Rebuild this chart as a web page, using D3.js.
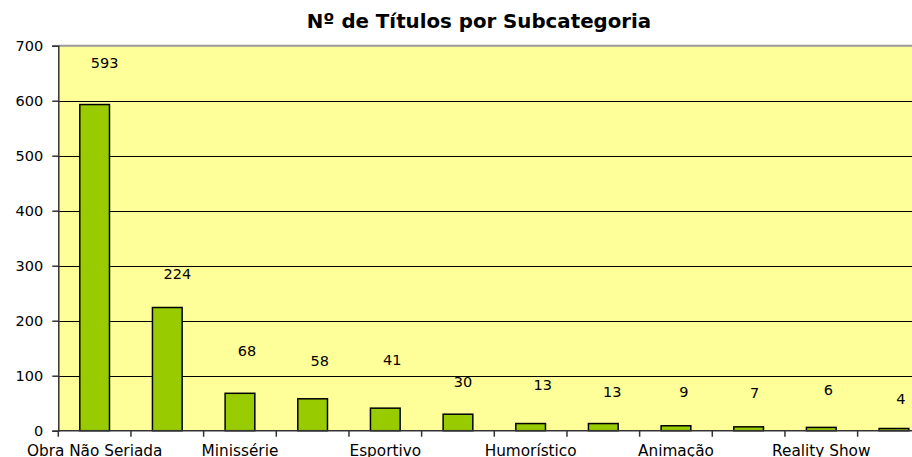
<!DOCTYPE html>
<html>
<head>
<meta charset="utf-8">
<script src="https://cdn.jsdelivr.net/npm/d3@7"></script>
<style>
  body { margin: 0; background: #fff; }
  svg { display: block; font-family: "DejaVu Sans", Verdana, sans-serif; }
</style>
</head>
<body>
<div id="chart"></div>
<script>
// data
var categories = ["Obra Não Seriada", "Série", "Minissérie", "Telenovela", "Esportivo", "Documentário",
                  "Humorístico", "Variedades", "Animação", "Jornalístico", "Reality Show", "Infantil"];
var titles = [593, 224, 68, 58, 41, 30, 13, 13, 9, 7, 6, 4];
var yTicks = [0, 100, 200, 300, 400, 500, 600, 700];

var svgWidth = 912;
var svgHeight = 457;

// plot area runs a little past the right edge, like the original
var plot = { left: 58.3, top: 45.7, right: 930.3, bottom: 430.7 };

var svg = d3.select("#chart").append("svg")
  .attr("width", svgWidth)
  .attr("height", svgHeight);

var x = d3.scaleBand()
  .domain(categories)
  .range([plot.left, plot.right])
  .padding(0);

var y = d3.scaleLinear()
  .domain([0, 700])
  .range([plot.bottom, plot.top]);

var barW = 29.7;

// background
svg.append("rect")
  .attr("x", plot.left)
  .attr("y", plot.top)
  .attr("width", plot.right - plot.left)
  .attr("height", plot.bottom - plot.top)
  .attr("fill", "#FFFF99");

// gridlines
svg.append("g")
  .selectAll("line")
  .data(yTicks.filter(d => d > 0 && d < 700))
  .enter()
  .append("line")
  .attr("x1", plot.left)
  .attr("x2", plot.right)
  .attr("y1", d => Math.round(y(d)) + 0.5)
  .attr("y2", d => Math.round(y(d)) + 0.5)
  .attr("stroke", "#000")
  .attr("stroke-width", 1);

// top border
svg.append("line")
  .attr("x1", plot.left)
  .attr("x2", plot.right)
  .attr("y1", plot.top)
  .attr("y2", plot.top)
  .attr("stroke", "#9a9a9a")
  .attr("stroke-width", 2);

// bars
svg.append("g")
  .selectAll("rect")
  .data(titles)
  .enter()
  .append("rect")
  .attr("x", (d, i) => x(categories[i]) + (x.bandwidth() - barW) / 2)
  .attr("y", d => y(d))
  .attr("width", barW)
  .attr("height", d => y(0) - y(d))
  .attr("fill", "#99CC00")
  .attr("stroke", "#000")
  .attr("stroke-width", 1.5);

// value labels (Excel left them a bit scattered)
var labelLift = [37, 29, 37, 33, 43, 27, 34, 27, 29, 29, 32, 25];
var labelShift = [10, 10, 7, 7, 7, 5, 12, 9, 8, 6, 7, 7];
svg.append("g")
  .selectAll("text")
  .data(titles)
  .enter()
  .append("text")
  .attr("x", (d, i) => x(categories[i]) + x.bandwidth() / 2 + labelShift[i])
  .attr("y", (d, i) => y(d) - labelLift[i])
  .attr("text-anchor", "middle")
  .attr("font-size", 14.5)
  .attr("fill", "#000")
  .text(d => d);

// y axis
var leftAxis = d3.axisLeft(y)
  .tickValues(yTicks)
  .tickSize(6)
  .tickPadding(9);

var yAxis = svg.append("g")
  .attr("transform", `translate(${plot.left}, 0)`)
  .call(leftAxis);
yAxis.select(".domain").attr("stroke", "#333").attr("stroke-width", 1.5);
yAxis.selectAll(".tick line").attr("stroke", "#333").attr("stroke-width", 1.5);
yAxis.selectAll("text").attr("font-size", 14.5).attr("fill", "#000")
  .attr("font-family", "DejaVu Sans, Verdana, sans-serif");

// x axis: ticks between categories, every other name shown
var xAxisG = svg.append("g");
xAxisG.append("line")
  .attr("x1", plot.left)
  .attr("x2", plot.right)
  .attr("y1", plot.bottom)
  .attr("y2", plot.bottom)
  .attr("stroke", "#333")
  .attr("stroke-width", 1.5);

xAxisG.selectAll(".xtick")
  .data(categories)
  .enter()
  .append("line")
  .attr("class", "xtick")
  .attr("x1", d => x(d))
  .attr("x2", d => x(d))
  .attr("y1", plot.bottom)
  .attr("y2", plot.bottom + 6)
  .attr("stroke", "#333")
  .attr("stroke-width", 1.5);

xAxisG.selectAll(".xlabel")
  .data(categories.filter((d, i) => i % 2 === 0))
  .enter()
  .append("text")
  .attr("class", "xlabel")
  .attr("x", d => x(d) + x.bandwidth() / 2)
  .attr("y", plot.bottom + 25.5)
  .attr("text-anchor", "middle")
  .attr("font-size", 15.3)
  .attr("fill", "#000")
  .text(d => d);

// title
svg.append("text")
  .attr("x", 479)
  .attr("y", 28)
  .attr("text-anchor", "middle")
  .attr("font-size", 19.8)
  .attr("font-weight", "bold")
  .attr("fill", "#000")
  .text("Nº de Títulos por Subcategoria");
</script>
</body>
</html>
